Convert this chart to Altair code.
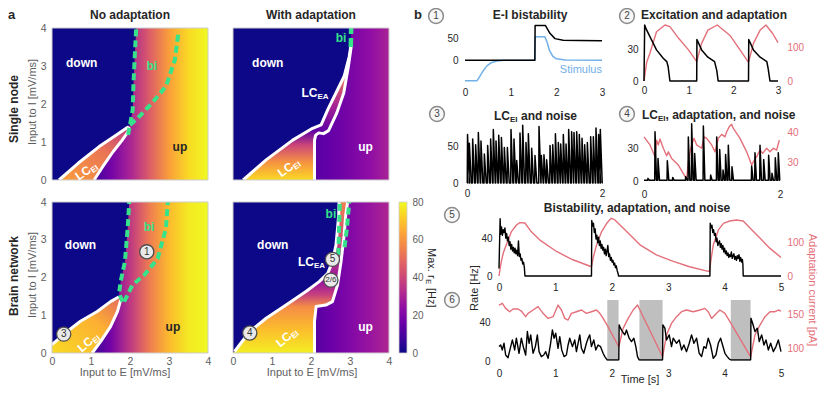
import altair as alt
import pandas as pd

FONT = "Liberation Sans"
W, H = 815, 378
RED = "#e3707a"
BLUE = "#72b0e8"
GREEN = "#36e28a"
DARK = "#262626"
GRAY = "#5e5e5e"
DOWN = "#0d0887"
PLASMA = ["#0d0887", "#41049d", "#6a00a8", "#8f0da4", "#b12a90", "#cc4778",
          "#e16462", "#f2844b", "#fca636", "#fcce25", "#f0f921"]

# ---------------- heatmap data (mV/ms coordinates, values in Hz) ----------------
TL_UP_X = [0.0, 1.0, 1.5, 2.0, 2.5, 3.0, 3.5, 4.0]
TL_UP_V = [0, 6, 18, 30, 46, 62, 74, 80]
TL_DOWN_Y = [0, 0.44, 0.88, 1.19, 1.38, 1.45, 1.85, 2.55, 3.43, 4.0]
TL_DOWN_X = [0.18, 0.67, 1.21, 1.66, 1.93, 2.0, 2.07, 2.09, 2.13, 2.16]
TL_LC_Y = [0, 0.35, 0.75, 1.05, 1.2, 1.33, 1.4]
TL_LC_XL = [0.18, 0.57, 1.05, 1.46, 1.67, 1.86, 1.97]
TL_LC_XR = [1.08, 1.3, 1.57, 1.8, 1.9, 1.94, 1.97]
TL_LC_O = [0, 0.6, 1]
TL_LC_V = [62, 52, 36]
TL_W1_X = [0.18, 0.67, 1.21, 1.66, 1.93, 1.97]
TL_W1_Y = [0, 0.44, 0.88, 1.19, 1.38, 1.4]
TL_W2_X = [1.08, 1.3, 1.57, 1.8, 1.95, 1.97]
TL_W2_Y = [0, 0.35, 0.75, 1.05, 1.27, 1.4]
TL_G1_X = [1.95, 2.0, 2.07, 2.09, 2.13, 2.16]
TL_G1_Y = [1.19, 1.45, 1.85, 2.55, 3.43, 4.0]
TL_G2_X = [2.0, 2.2, 2.56, 2.92, 3.15, 3.24]
TL_G2_Y = [1.45, 1.63, 2.02, 2.46, 3.16, 3.87]

TR_UP_X = [0.0, 2.0, 2.5, 3.0, 3.5, 4.0]
TR_UP_V = [10, 12, 15, 19, 24, 30]
TR_DOWN_Y = [0, 0.53, 1.05, 1.36, 1.45, 1.85, 2.29, 2.73, 3.25, 3.52, 4.0]
TR_DOWN_X = [0.26, 0.85, 1.53, 2.04, 2.26, 2.43, 2.64, 2.85, 2.98, 3.02, 3.03]
TR_EI_Y = [0, 0.53, 1.05, 1.2, 1.3]
TR_EI_XL = [0.26, 0.85, 1.53, 1.78, 1.94]
TR_EI_XR = [2.09, 2.09, 2.09, 2.14, 2.3]
TR_EI_O = [0, 0.35, 0.7, 1]
TR_EI_V = [74, 60, 40, 14]
TR_EA_Y = [1.3, 1.36, 1.45, 1.76, 1.85, 2.29, 2.73, 3.0, 3.25, 3.43, 3.52]
TR_EA_XL = [1.94, 2.04, 2.26, 2.39, 2.43, 2.64, 2.83, 2.91, 2.97, 3.0, 3.02]
TR_EA_XR = [2.45, 2.48, 2.52, 2.66, 2.7, 2.84, 2.92, 2.96, 3.0, 3.02, 3.03]
TR_EA_O = [0, 0.3, 0.6, 1]
TR_EA_V = [14, 30, 50, 58]
TR_W2_X = [2.09, 2.09, 2.12, 2.2, 2.32, 2.45, 2.66, 2.84, 2.96, 3.02, 3.03]
TR_W2_Y = [0, 1.05, 1.18, 1.24, 1.22, 1.3, 1.76, 2.29, 3.0, 3.43, 3.52]
TR_G_X = [3.02, 3.03]
TR_G_Y = [3.5, 4.0]

BL_UP_X = [0.0, 1.0, 1.5, 2.0, 2.5, 3.0, 3.5, 4.0]
BL_UP_V = [0, 5, 18, 36, 54, 68, 77, 80]
BL_DOWN_Y = [0.22, 0.57, 0.84, 1.1, 1.36, 1.49, 1.58, 1.89, 2.42, 3.3, 4.0]
BL_DOWN_X = [0.0, 0.39, 0.73, 1.16, 1.5, 1.72, 1.72, 1.76, 1.87, 1.94, 1.98]
BL_LC_Y = [0, 0.22, 0.31, 0.57, 0.7, 0.84, 1.1, 1.36, 1.45]
BL_LC_XL = [0, 0, 0.1, 0.39, 0.56, 0.73, 1.16, 1.5, 1.66]
BL_LC_XR = [1.03, 1.19, 1.25, 1.4, 1.5, 1.57, 1.68, 1.74, 1.76]
BL_LC_O = [0, 0.6, 1]
BL_LC_V = [74, 66, 50]
BL_W1_X = [0, 0.39, 0.73, 1.16, 1.5, 1.72]
BL_W1_Y = [0.22, 0.57, 0.84, 1.1, 1.36, 1.49]
BL_W2_X = [1.03, 1.25, 1.5, 1.68, 1.76]
BL_W2_Y = [0, 0.31, 0.7, 1.1, 1.4]
BL_G1_X = [1.81, 1.72, 1.76, 1.87, 1.94, 1.98]
BL_G1_Y = [1.36, 1.58, 1.89, 2.42, 3.3, 4.0]
BL_G2_X = [1.85, 1.94, 2.06, 2.37, 2.71, 2.92, 2.97]
BL_G2_Y = [1.36, 1.54, 1.8, 2.07, 2.5, 3.3, 4.0]

BR_UP_X = [0.0, 2.0, 2.5, 3.0, 3.5, 4.0]
BR_UP_V = [8, 11, 16, 21, 26, 31]
BR_DOWN_Y = [0, 0.04, 0.57, 0.92, 1.27, 1.63, 1.89, 2.11, 2.42, 2.86, 3.3, 3.65, 4.0]
BR_DOWN_X = [0, 0.04, 0.43, 0.85, 1.36, 1.87, 2.21, 2.43, 2.55, 2.64, 2.68, 2.71, 2.72]
BR_EI_Y = [0, 0.04, 0.57, 0.84, 0.92, 1.23, 1.27, 1.36, 1.63, 1.8, 1.89]
BR_EI_XL = [0, 0.04, 0.43, 0.76, 0.85, 1.31, 1.36, 1.48, 1.87, 2.08, 2.21]
BR_EI_XR = [2.09, 2.09, 2.09, 2.09, 2.1, 2.13, 2.38, 2.55, 2.62, 2.68, 2.7]
BR_EI_O = [0, 0.35, 0.65, 0.82, 1]
BR_EI_V = [78, 68, 58, 38, 26]
BR_EA_Y = [1.89, 2.11, 2.42, 2.86, 3.12, 3.3, 3.65, 4.0]
BR_EA_XL = [2.21, 2.43, 2.55, 2.64, 2.66, 2.68, 2.71, 2.72]
BR_EA_XR = [2.7, 2.73, 2.77, 2.83, 2.85, 2.86, 2.89, 2.94]
BR_EA_O = [0, 0.5, 1]
BR_EA_V = [26, 40, 55]
BR_W2_X = [2.09, 2.09, 2.13, 2.38, 2.55, 2.68, 2.77, 2.85, 2.89, 2.94]
BR_W2_Y = [0, 0.84, 1.23, 1.27, 1.36, 1.8, 2.42, 3.12, 3.65, 4.0]
BR_G1_X = [2.7, 2.72, 2.74]
BR_G1_Y = [2.6, 3.3, 4.0]
BR_G2_X = [2.86, 2.92, 2.98]
BR_G2_Y = [2.8, 3.3, 4.0]

CB_TICKS = [0, 20, 40, 60, 80]
HM_TICKS = [0, 1, 2, 3, 4]

# ---------------- time series data ----------------
P1K_T = [0, 1.53, 1.535, 1.76, 1.8, 1.86, 1.97, 2.15, 2.5, 3.0]
P1K_V = [0, 0, 79, 79, 72, 61, 49, 45.5, 44.5, 44]
P1S_T = [0, 0.26, 0.33, 0.4, 0.48, 0.57, 0.7, 0.85, 1.53, 1.535, 1.75, 1.8, 1.85, 1.92, 2.0, 2.2, 3.0]
P1S_V = [-47, -47, -36, -24, -13, -6, -2, 0, 0, 53, 53, 40, 22, 9, 3, 0.5, 0]

P2K_T = [0, 0.015, 0.05, 0.13, 0.28, 0.43, 0.51, 0.54, 0.58, 1.18, 1.185, 1.29, 1.43, 1.58, 1.63, 1.66,
         2.34, 2.345, 2.45, 2.6, 2.75, 2.78, 2.82, 3.0]
P2K_V = [0, 54, 50, 43, 30, 22, 18.7, 14, 0, 0, 40, 30, 23, 18.7, 10, 0, 0, 40, 30, 23, 18.7, 12, 0, 0]
P2R_T = [0, 0.06, 0.13, 0.28, 0.47, 0.58, 0.78, 1.0, 1.18, 1.29, 1.43, 1.64, 1.92, 2.1, 2.34, 2.45, 2.6,
         2.73, 2.88, 3.0]
P2R_V = [0, 55, 81, 145, 165, 160, 125, 91, 57, 111, 150, 165, 135, 101, 55, 111, 150, 165, 140, 113]

P3_T = [0.008, 0.035, 0.084, 0.128, 0.168, 0.207, 0.257, 0.306, 0.35, 0.39, 0.43, 0.47, 0.51, 0.553, 0.598,
        0.652, 0.696, 0.736, 0.785, 0.825, 0.874, 0.909, 0.958, 1.007, 1.067, 1.101, 1.14, 1.18, 1.23, 1.27,
        1.31, 1.353, 1.388, 1.427, 1.467, 1.506, 1.55, 1.585, 1.625, 1.664, 1.704, 1.743, 1.783, 1.832, 1.872,
        1.911, 1.95, 1.975]
P3_H = [67, 55, 61, 53, 70, 58, 40, 52, 61, 74, 58, 66, 63, 49, 49, 74, 61, 31, 69, 80, 56, 68, 48, 38, 78,
        38, 39, 32, 52, 53, 68, 56, 54, 67, 54, 74, 71, 70, 71, 67, 62, 53, 56, 64, 64, 76, 67, 74]

P4_T = [0.059, 0.162, 0.206, 0.343, 0.422, 0.613, 0.652, 0.701, 0.745, 0.873, 0.98, 1.069, 1.113, 1.162, 1.2,
        1.24, 1.294, 1.583, 1.632, 1.706, 1.76, 1.833, 1.882, 1.931, 1.975]
P4_H = [2.4, 45, 20.6, 18.5, 3.3, 4, 40.3, 52.4, 25.2, 50.3, 5.5, 40.3, 28.8, 10, 24.2, 32.7, 13, 13.6, 25.8,
        32.7, 19.7, 23.6, 7, 21.2, 25.8]
P4R_T = [0, 0.088, 0.162, 0.186, 0.211, 0.235, 0.284, 0.333, 0.358, 0.407, 0.505, 0.627, 0.652, 0.676, 0.701,
         0.735, 0.775, 0.848, 0.882, 0.922, 0.995, 1.044, 1.093, 1.142, 1.191, 1.216, 1.255, 1.289, 1.314,
         1.412, 1.51, 1.583, 1.608, 1.657, 1.706, 1.745, 1.804, 1.853, 1.902, 1.951, 1.99]
P4R_V = [38.4, 35.7, 31.8, 37.3, 35.7, 37.7, 34.6, 32.1, 33.4, 31.2, 29, 24.3, 30.1, 33.4, 35.7, 37.9, 35.7,
         34.6, 38.4, 37.9, 35.7, 33.4, 37.9, 39.2, 38.4, 40.1, 41.8, 42.6, 41.2, 37.9, 33.4, 29, 30.1, 31.8,
         34, 32.9, 34.6, 33.4, 34.6, 34, 37.3]

P5K1_T = [0, 0.02, 0.03, 0.045, 0.06, 0.075, 0.09, 0.105, 0.12, 0.135, 0.15, 0.165, 0.18, 0.195, 0.21, 0.225,
          0.24, 0.255, 0.27, 0.285, 0.3, 0.315, 0.33, 0.345, 0.36, 0.375, 0.39, 0.405, 0.42, 0.435, 0.45, 0.46]
P5K1_V = [8, 62, 45, 53, 44, 50, 47, 52, 41, 46, 38, 42, 33, 37, 29, 34, 27, 31, 25, 30, 24, 28, 22, 38, 21,
          24, 17, 19, 13, 15, 9, 0]
P5K2_T = [1.64, 1.645, 1.66, 1.675, 1.69, 1.705, 1.72, 1.735, 1.75, 1.765, 1.78, 1.795, 1.81, 1.825, 1.84,
          1.855, 1.87, 1.885, 1.9, 1.915, 1.93, 1.945, 1.96, 1.975, 1.99, 2.005, 2.02, 2.035, 2.05, 2.065, 2.08,
          2.095, 2.11, 2.12]
P5K2_V = [0, 60, 54, 57, 47, 51, 40, 44, 36, 42, 33, 38, 30, 34, 28, 31, 24, 29, 22, 27, 33, 21, 24, 17, 20,
          15, 17, 12, 14, 9, 11, 6, 3, 0]
P5K3_T = [3.74, 3.745, 3.76, 3.775, 3.79, 3.805, 3.82, 3.835, 3.85, 3.865, 3.88, 3.895, 3.91, 3.925, 3.94,
          3.955, 3.97, 3.985, 4.0, 4.015, 4.03, 4.045, 4.06, 4.075, 4.09, 4.105, 4.12, 4.135, 4.15, 4.165, 4.18,
          4.195, 4.21, 4.225, 4.24, 4.255, 4.27, 4.285, 4.3, 4.315, 4.325, 4.33, 5.0]
P5K3_V = [0, 57, 52, 55, 47, 50, 44, 46, 37, 41, 33, 36, 38, 31, 35, 29, 33, 26, 30, 24, 27, 22, 25, 20, 23,
          21, 26, 19, 22, 24, 18, 21, 17, 22, 19, 23, 16, 20, 15, 18, 12, 0, 0]
P5R_T = [0, 0.04, 0.08, 0.13, 0.22, 0.31, 0.37, 0.46, 0.57, 0.72, 1.02, 1.31, 1.64, 1.67, 1.73, 1.82, 1.91,
         1.99, 2.05, 2.2, 2.5, 2.79, 3.09, 3.38, 3.73, 3.76, 3.8, 3.89, 3.98, 4.09, 4.21, 4.33, 4.45, 4.63,
         4.8, 5.0]
P5R_V = [0, 43, 72, 94, 134, 154, 161, 160, 134, 109, 74, 49, 28, 55, 94, 134, 159, 174, 170, 145, 94, 64, 44,
         28, 13, 50, 94, 139, 159, 166, 169, 166, 145, 114, 84, 56]

P6K_T = [0, 0.03, 0.059, 0.089, 0.118, 0.16, 0.2, 0.237, 0.278, 0.308, 0.355, 0.396, 0.438, 0.473, 0.503,
         0.533, 0.562, 0.604, 0.645, 0.68, 0.71, 0.751, 0.793, 0.828, 0.87, 0.911, 0.947, 0.976, 1.006, 1.047,
         1.077, 1.112, 1.154, 1.195, 1.225, 1.254, 1.302, 1.343, 1.373, 1.402, 1.432, 1.462, 1.503, 1.55, 1.58,
         1.609, 1.639, 1.68, 1.716, 1.757, 1.799, 1.846, 1.876, 1.917, 2.124, 2.13, 2.154, 2.189, 2.231, 2.26,
         2.308, 2.349, 2.391, 2.426, 2.456, 2.485, 2.9, 2.905, 2.941, 2.97, 3.018, 3.059, 3.089, 3.148, 3.195,
         3.237, 3.278, 3.325, 3.373, 3.414, 3.456, 3.503, 3.55, 3.592, 3.633, 3.669, 3.71, 3.751, 3.799, 3.846,
         3.888, 3.929, 3.964, 4.006, 4.047, 4.083, 4.112, 4.462, 4.467, 4.497, 4.538, 4.58, 4.615, 4.657, 4.698,
         4.734, 4.775, 4.817, 4.864, 4.911, 4.953, 5.0]
P6K_V = [15.1, 16.8, 11.6, 18.6, 6.3, 3.5, 13.3, 22.1, 11.6, 23.9, 8.1, 23.9, 13.3, 6.3, 30.9, 18.6, 27.4, 8.1,
         15.1, 27.4, 9.8, 4.6, 6.3, 9.8, 2.8, 16.8, 32.6, 23.9, 29.1, 13.3, 25.6, 11.6, 4.6, 6.3, 16.8, 23.9,
         15.1, 22.1, 9.8, 18.6, 27.4, 13.3, 8.1, 18.6, 23.9, 27.4, 15.1, 22.1, 11.6, 16.8, 15.1, 8.1, 4.6, 1.2,
         1.2, 37.9, 34.4, 30.9, 27.4, 32.6, 23.9, 20.4, 23.9, 15.1, 4.6, 1.2, 1.2, 37.9, 34.4, 22.1, 27.4, 15.1,
         23.9, 18.6, 22.1, 11.6, 16.8, 9.8, 18.6, 27.4, 18.6, 23.9, 8.1, 4.6, 15.1, 13.3, 23.9, 16.8, 2.8, 6.3,
         18.6, 23.9, 16.8, 8.1, 4.6, 2.1, 1.2, 1.2, 44.9, 39.6, 30.9, 34.4, 20.4, 27.4, 16.8, 22.1, 11.6, 18.6,
         9.8, 15.1, 22.1, 9.8]
P6R_T = [0, 0.059, 0.118, 0.189, 0.249, 0.337, 0.396, 0.473, 0.515, 0.604, 0.692, 0.781, 0.87, 0.959, 1.047,
         1.107, 1.166, 1.225, 1.284, 1.373, 1.462, 1.55, 1.639, 1.728, 1.787, 1.846, 1.917, 2.124, 2.201, 2.29,
         2.379, 2.456, 2.9, 2.97, 3.059, 3.148, 3.237, 3.325, 3.444, 3.562, 3.651, 3.71, 3.769, 3.828, 3.917,
         4.006, 4.095, 4.462, 4.538, 4.627, 4.716, 4.805, 4.893, 4.953, 5.0]
P6R_V = [163.2, 165.7, 158.3, 153.4, 157.4, 157.4, 154.4, 146.1, 151, 155.9, 160.8, 151, 143.6, 146.1, 163.2,
         155.9, 143.6, 141.2, 151, 153.4, 155.9, 151, 153.4, 155.9, 151, 143.6, 133.8, 101.9, 128.9, 143.6,
         155.9, 163.2, 87.2, 119.1, 136.3, 146.1, 153.4, 155.9, 153.4, 155.9, 158.3, 153.4, 143.6, 148.5, 155.9,
         151, 138.7, 87.2, 119.1, 133.8, 146.1, 153.4, 153.4, 155.9, 154.4]
P6_GREY_T0 = [1.92, 2.49, 4.11]
P6_GREY_T1 = [2.12, 2.90, 4.46]


# ---------------- helpers ----------------
def hex2rgb(h):
    return tuple(int(h[i:i + 2], 16) for i in (1, 3, 5))


def plasma(v, vmax=80.0):
    f = min(max(v / vmax, 0.0), 1.0) * 10
    i = min(int(f), 9)
    t = f - i
    a, b = hex2rgb(PLASMA[i]), hex2rgb(PLASMA[i + 1])
    return "#%02x%02x%02x" % tuple(int(round(p + (q - p) * t)) for p, q in zip(a, b))


def grad(offsets, values, x1=0, y1=0, x2=1, y2=0):
    return alt.LinearGradient(
        gradient="linear",
        stops=[alt.GradientStop(offset=o, color=plasma(v)) for o, v in zip(offsets, values)],
        x1=x1, y1=y1, x2=x2, y2=y2)


def sc(dom, rng):
    return alt.Scale(domain=dom, range=rng, nice=False, zero=False)


def ax_bottom(vals, ypix, pad, color=DARK, size=10):
    return alt.Axis(orient="bottom", offset=ypix - H, values=vals, labelPadding=pad, labelColor=color,
                    labelFontSize=size, labelFont=FONT, format="d", labelFlush=False, grid=False,
                    domain=False, ticks=False, title=None)


def ax_left(vals, xpix, pad, color=DARK, size=10):
    return alt.Axis(orient="left", offset=-xpix, values=vals, labelPadding=pad, labelColor=color,
                    labelFontSize=size, labelFont=FONT, format="d", labelFlush=False, grid=False,
                    domain=False, ticks=False, title=None)


def ax_right(vals, xpix, pad, color=DARK, size=10):
    return alt.Axis(orient="right", offset=xpix - W, values=vals, labelPadding=pad, labelColor=color,
                    labelFontSize=size, labelFont=FONT, format="d", labelFlush=False, grid=False,
                    domain=False, ticks=False, title=None)


ONE = pd.DataFrame({"k": [0]})


def note(txt, x, y, size=11, weight="normal", color=DARK, align="center", angle=0, dx=0, dy=0):
    return alt.Chart(ONE).mark_text(text=txt, font=FONT, fontSize=size, fontWeight=weight, color=color,
                                    align=align, baseline="middle", angle=angle, dx=dx, dy=dy).encode(
        x=alt.value(x), y=alt.value(y))


def badge(txt, x, y, fs=10):
    c = alt.Chart(ONE).mark_point(shape="circle", filled=True, fill="#f7f7f7", stroke="#8a8a8a",
                                  strokeWidth=1.5, size=220, opacity=1).encode(x=alt.value(x), y=alt.value(y))
    return [c, note(txt, x, y, size=fs, color="#444444")]


HD = [0, 4]


def hm_bg(XR, YR, up_x, up_v, show_x, show_y):
    g = grad([x / 4.0 for x in up_x], up_v)
    df = pd.DataFrame({"x": [0], "x2": [4], "y": [0], "y2": [4]})
    xa = ax_bottom(HM_TICKS, YR[0], 3, GRAY, 10.5) if show_x else None
    ya = ax_left(HM_TICKS, XR[0], 6, GRAY, 10.5) if show_y else None
    return alt.Chart(df).mark_rect(color=g, opacity=1).encode(
        x=alt.X("x:Q", scale=sc(HD, XR), axis=xa), x2="x2:Q",
        y=alt.Y("y:Q", scale=sc(HD, YR), axis=ya), y2="y2:Q")


def hm_border(XR, YR):
    df = pd.DataFrame({"x": [0], "x2": [4], "y": [0], "y2": [4]})
    return alt.Chart(df).mark_rect(fillOpacity=0, stroke="#cdcdcd", strokeWidth=1).encode(
        x=alt.X("x:Q", scale=sc(HD, XR), axis=None), x2="x2:Q",
        y=alt.Y("y:Q", scale=sc(HD, YR), axis=None), y2="y2:Q")


def hm_area(XR, YR, ys, xl, xr, fill):
    df = pd.DataFrame({"y": ys, "xl": xl, "xr": xr})
    return alt.Chart(df).mark_area(orient="horizontal", color=fill, opacity=1, interpolate="linear").encode(
        y=alt.Y("y:Q", scale=sc(HD, YR), axis=None),
        x=alt.X("xl:Q", scale=sc(HD, XR), axis=None), x2="xr:Q")


def hm_line(XR, YR, xs, ys, color, width, dash=None):
    df = pd.DataFrame({"x": xs, "y": ys, "i": list(range(len(xs)))})
    kw = dict(color=color, strokeWidth=width, strokeCap="butt", strokeJoin="round")
    if dash:
        kw["strokeDash"] = dash
    return alt.Chart(df).mark_line(**kw).encode(
        x=alt.X("x:Q", scale=sc(HD, XR), axis=None),
        y=alt.Y("y:Q", scale=sc(HD, YR), axis=None), order="i:Q")


def hm_text(XR, YR, x, y, txt, color, size=12, weight="bold", angle=0, align="center", dx=0, dy=0):
    df = pd.DataFrame({"x": [x], "y": [y]})
    return alt.Chart(df).mark_text(text=txt, font=FONT, fontSize=size, fontWeight=weight, color=color,
                                   align=align, baseline="middle", angle=angle, dx=dx, dy=dy).encode(
        x=alt.X("x:Q", scale=sc(HD, XR), axis=None),
        y=alt.Y("y:Q", scale=sc(HD, YR), axis=None))


def hm_lc(XR, YR, x, y, sub, color="white", angle=0):
    return [hm_text(XR, YR, x, y, "LC", color, 12, "bold", angle, "right", 3, 0),
            hm_text(XR, YR, x, y, sub, color, 8, "bold", angle, "left", 3, 4)]


def hm_badge(XR, YR, x, y, txt, fs=10):
    df = pd.DataFrame({"x": [x], "y": [y]})
    enc = dict(x=alt.X("x:Q", scale=sc(HD, XR), axis=None), y=alt.Y("y:Q", scale=sc(HD, YR), axis=None))
    c = alt.Chart(df).mark_point(shape="circle", filled=True, fill="#e9e9e9", stroke="#4d4d4d",
                                 strokeWidth=1.3, size=200, opacity=1).encode(**enc)
    t = alt.Chart(df).mark_text(text=txt, font=FONT, fontSize=fs, color="#333333", baseline="middle").encode(**enc)
    return [c, t]


def series(t, v, XD, XR, YD, YR, color, width, xaxis=None, yaxis=None):
    df = pd.DataFrame({"t": t, "v": v, "i": list(range(len(t)))})
    return alt.Chart(df).mark_line(color=color, strokeWidth=width, strokeJoin="round").encode(
        x=alt.X("t:Q", scale=sc(XD, XR), axis=xaxis),
        y=alt.Y("v:Q", scale=sc(YD, YR), axis=yaxis), order="i:Q")


def spikes(ts, hs, base, rise, fall, tmax):
    t, v = [0.0], [base]
    for a, h in zip(ts, hs):
        t += [max(a - rise, 0.0), a, a + fall]
        v += [base, h, base]
    t.append(tmax)
    v.append(base)
    return t, v


layers = []

# ---------------- panel a ----------------
TLX, TLY = [44, 200], [172, 20]
TRX, TRY = [225, 381], [172, 20]
BLX, BLY = [44, 200], [345, 194]
BRX, BRY = [225, 381], [345, 194]
WL = 3.0


def zeros(n):
    return [0] * n


# top-left
layers += [hm_bg(TLX, TLY, TL_UP_X, TL_UP_V, False, True),
           hm_area(TLX, TLY, TL_DOWN_Y, zeros(len(TL_DOWN_Y)), TL_DOWN_X, DOWN),
           hm_area(TLX, TLY, TL_LC_Y, TL_LC_XL, TL_LC_XR, grad(TL_LC_O, TL_LC_V, 0, 1, 1, 0)),
           hm_line(TLX, TLY, TL_W1_X, TL_W1_Y, "white", WL),
           hm_line(TLX, TLY, TL_W2_X, TL_W2_Y, "white", WL),
           hm_line(TLX, TLY, TL_G1_X, TL_G1_Y, GREEN, 4, [7, 4]),
           hm_line(TLX, TLY, TL_G2_X, TL_G2_Y, GREEN, 4, [7, 4]),
           hm_border(TLX, TLY),
           hm_text(TLX, TLY, 0.76, 3.09, "down", "white"),
           hm_text(TLX, TLY, 2.56, 3.0, "bi", GREEN),
           hm_text(TLX, TLY, 3.28, 0.88, "up", DARK)]
layers += hm_lc(TLX, TLY, 0.9, 0.26, "EI", angle=325)

# top-right
layers += [hm_bg(TRX, TRY, TR_UP_X, TR_UP_V, False, False),
           hm_area(TRX, TRY, TR_DOWN_Y, zeros(len(TR_DOWN_Y)), TR_DOWN_X, DOWN),
           hm_area(TRX, TRY, TR_EI_Y, TR_EI_XL, TR_EI_XR, grad(TR_EI_O, TR_EI_V, 0, 1, 0, 0)),
           hm_area(TRX, TRY, TR_EA_Y, TR_EA_XL, TR_EA_XR, grad(TR_EA_O, TR_EA_V, 0, 1, 0, 0)),
           hm_line(TRX, TRY, TR_DOWN_X[:-1], TR_DOWN_Y[:-1], "white", WL),
           hm_line(TRX, TRY, TR_W2_X, TR_W2_Y, "white", WL),
           hm_line(TRX, TRY, TR_G_X, TR_G_Y, GREEN, 4.5, [9, 4]),
           hm_border(TRX, TRY),
           hm_text(TRX, TRY, 0.89, 3.09, "down", "white"),
           hm_text(TRX, TRY, 2.77, 3.74, "bi", GREEN),
           hm_text(TRX, TRY, 3.4, 0.88, "up", "white")]
layers += hm_lc(TRX, TRY, 2.09, 2.29, "EA")
layers += hm_lc(TRX, TRY, 1.45, 0.35, "EI", angle=325)

# bottom-left
layers += [hm_bg(BLX, BLY, BL_UP_X, BL_UP_V, True, True),
           hm_area(BLX, BLY, BL_LC_Y, BL_LC_XL, BL_LC_XR, grad(BL_LC_O, BL_LC_V, 0, 1, 1, 0)),
           hm_area(BLX, BLY, BL_DOWN_Y, zeros(len(BL_DOWN_Y)), BL_DOWN_X, DOWN),
           hm_line(BLX, BLY, BL_W1_X, BL_W1_Y, "white", WL),
           hm_line(BLX, BLY, BL_W2_X, BL_W2_Y, "white", WL),
           hm_line(BLX, BLY, BL_G1_X, BL_G1_Y, GREEN, 4, [7, 4]),
           hm_line(BLX, BLY, BL_G2_X, BL_G2_Y, GREEN, 4, [7, 4]),
           hm_border(BLX, BLY),
           hm_text(BLX, BLY, 0.73, 2.87, "down", "white"),
           hm_text(BLX, BLY, 2.49, 3.34, "bi", GREEN),
           hm_text(BLX, BLY, 3.1, 0.7, "up", DARK)]
layers += hm_lc(BLX, BLY, 0.95, 0.31, "EI", angle=320)
layers += hm_badge(BLX, BLY, 2.43, 2.68, "1")
layers += hm_badge(BLX, BLY, 0.3, 0.5, "3")

# bottom-right
layers += [hm_bg(BRX, BRY, BR_UP_X, BR_UP_V, True, False),
           hm_area(BRX, BRY, BR_DOWN_Y, zeros(len(BR_DOWN_Y)), BR_DOWN_X, DOWN),
           hm_area(BRX, BRY, BR_EI_Y, BR_EI_XL, BR_EI_XR, grad(BR_EI_O, BR_EI_V, 0, 1, 0, 0)),
           hm_area(BRX, BRY, BR_EA_Y, BR_EA_XL, BR_EA_XR, grad(BR_EA_O, BR_EA_V, 0, 1, 0, 0)),
           hm_line(BRX, BRY, BR_DOWN_X[1:], BR_DOWN_Y[1:], "white", WL),
           hm_line(BRX, BRY, BR_W2_X, BR_W2_Y, "white", WL),
           hm_line(BRX, BRY, BR_G1_X, BR_G1_Y, GREEN, 4, [7, 4]),
           hm_line(BRX, BRY, BR_G2_X, BR_G2_Y, GREEN, 4, [7, 4]),
           hm_border(BRX, BRY),
           hm_text(BRX, BRY, 1.02, 2.87, "down", "white"),
           hm_text(BRX, BRY, 2.51, 3.69, "bi", GREEN),
           hm_text(BRX, BRY, 3.4, 0.7, "up", "white")]
layers += hm_lc(BRX, BRY, 2.0, 2.42, "EA")
layers += hm_lc(BRX, BRY, 1.4, 0.44, "EI", angle=320)
layers += hm_badge(BRX, BRY, 2.55, 2.48, "5")
layers += hm_badge(BRX, BRY, 2.51, 1.93, "2/6", fs=8)
layers += hm_badge(BRX, BRY, 0.43, 0.53, "4")

# colour bar
cb_df = pd.DataFrame({"x": [0], "x2": [1], "y": [0], "y2": [80]})
cb_grad = alt.LinearGradient(gradient="linear",
                             stops=[alt.GradientStop(offset=i / 10.0, color=c) for i, c in enumerate(PLASMA)],
                             x1=0, y1=1, x2=0, y2=0)
layers.append(alt.Chart(cb_df).mark_rect(color=cb_grad, stroke="#cdcdcd", strokeWidth=0.8).encode(
    x=alt.X("x:Q", scale=sc([0, 1], [391, 399]), axis=None), x2="x2:Q",
    y=alt.Y("y:Q", scale=sc([0, 80], [345, 194]), axis=ax_right(CB_TICKS, 399, 5, GRAY, 10)), y2="y2:Q"))
layers += [note("Max. r", 423, 240, 11, color=DARK, align="left", angle=90),
           note("E", 423, 240, 8, color=DARK, align="left", angle=90, dx=31, dy=3),
           note("[Hz]", 423, 240, 11, color=DARK, align="left", angle=90, dx=40)]

# panel a annotations
layers += [note("a", 0, 7, 13, "bold", align="left"),
           note("No adaptation", 122, 7, 12, "bold"),
           note("With adaptation", 303, 7, 12, "bold"),
           note("Single node", 6, 101, 12, "bold", angle=270),
           note("Brain network", 6, 268, 12, "bold", angle=270),
           note("Input to I [mV/ms]", 24.5, 94, 11, color=GRAY, angle=270),
           note("Input to I [mV/ms]", 24.5, 267, 11, color=GRAY, angle=270),
           note("Input to E [mV/ms]", 117, 365, 11, color=GRAY),
           note("Input to E [mV/ms]", 304, 365, 11, color=GRAY)]

# ---------------- panel b ----------------
# 1: E-I bistability
P1X, P1Y, P1D = [457, 594], [75, 17], [-52, 80]
layers += [series(P1S_T, P1S_V, [0, 3], P1X, P1D, P1Y, BLUE, 1.5),
           series(P1K_T, P1K_V, [0, 3], P1X, P1D, P1Y, "black", 1.5,
                  ax_bottom([0, 1, 2, 3], 75, 4), ax_left([0, 50], 457, 7)),
           note("Stimulus", 594, 62, 11, color=BLUE, align="right"),
           note("E-I bistability", 522, 7, 12, "bold")]

# 2: excitation and adaptation
P2X, P2Y = [636, 770], [73, 17]
layers += [series(P2R_T, P2R_V, [0, 3], P2X, [0, 165], P2Y, RED, 1.4, None, ax_right([0, 100], 770, 9, RED)),
           series(P2K_T, P2K_V, [0, 3], P2X, [0, 54], P2Y, "black", 1.5,
                  ax_bottom([0, 1, 2, 3], 73, 4), ax_left([0, 30], 636, 6)),
           note("Excitation and adaptation", 706, 7, 12, "bold")]

# 3: LC_EI and noise
P3X, P3Y = [459, 594], [175, 115]
s3t, s3v = spikes(P3_T, P3_H, 0.0, 0.004, 0.028, 2.0)
layers += [series(s3t, s3v, [0, 2], P3X, [0, 83], P3Y, "black", 1.5,
                  ax_bottom([0, 1, 2], 175, 5), ax_left([0, 50], 459, 9)),
           note("LC", 486, 108, 12, "bold", align="left"),
           note("EI", 502, 112, 8, "bold", align="left"),
           note("and noise", 513, 108, 12, "bold", align="left")]

# 4: LC_EI, adaptation and noise
P4X, P4Y = [636, 772], [173, 115]
s4t, s4v = spikes(P4_T, P4_H, 0.6, 0.004, 0.022, 2.0)
layers += [series(P4R_T, P4R_V, [0, 2], P4X, [23.7, 43], P4Y, RED, 1.4, None, ax_right([30, 40], 772, 7, RED)),
           series(s4t, s4v, [0, 2], P4X, [0, 53], P4Y, "black", 1.5,
                  ax_bottom([0, 1, 2], 173, 8), ax_left([0, 30], 636, 6)),
           note("LC", 634, 107, 12, "bold", align="left"),
           note("EI", 650, 111, 8, "bold", align="left"),
           note(", adaptation, and noise", 657.5, 107, 12, "bold", align="left")]

# 5: bistability, adaptation and noise
P5X, P5Y = [491, 773], [268, 210]
layers += [series(P5R_T, P5R_V, [0, 5], P5X, [0, 175], P5Y, RED, 1.4, None, ax_right([0, 100], 773, 6, RED)),
           series(P5K1_T + P5K2_T + P5K3_T, P5K1_V + P5K2_V + P5K3_V, [0, 5], P5X, [0, 62.7], P5Y, "black", 1.4,
                  ax_bottom([0, 1, 2, 3, 4, 5], 268, 6), ax_left([0, 40], 491, 7)),
           note("Bistability, adaptation, and noise", 629, 200, 12, "bold")]

# 6: noise-driven switching
P6X, P6Y = [491, 773], [353, 292]
grey_df = pd.DataFrame({"t0": P6_GREY_T0, "t1": P6_GREY_T1, "y0": [0] * 3, "y1": [64] * 3})
layers += [alt.Chart(grey_df).mark_rect(color="#bfbfbf", opacity=1).encode(
               x=alt.X("t0:Q", scale=sc([0, 5], P6X), axis=None), x2="t1:Q",
               y=alt.Y("y0:Q", scale=sc([0, 64], P6Y), axis=None), y2="y1:Q"),
           series(P6R_T, P6R_V, [0, 5], P6X, [81, 170.6], P6Y, RED, 1.4, None, ax_right([100, 150], 773, 6, RED)),
           series(P6K_T, P6K_V, [0, 5], P6X, [0, 64], P6Y, "black", 1.4,
                  ax_bottom([0, 1, 2, 3, 4, 5], 353, 7), ax_left([0, 40], 491, 9)),
           note("Time [s]", 632, 372, 11),
           note("Rate [Hz]", 467, 280, 11, angle=270),
           note("Adaptation current [pA]", 804, 282, 11, color=RED, angle=90)]

# panel b labels and badges
layers.append(note("b", 410, 7, 13, "bold"))
layers += badge("1", 428, 8)
layers += badge("2", 619, 8)
layers += badge("3", 429, 106)
layers += badge("4", 619, 106)
layers += badge("5", 444, 207)
layers += badge("6", 444, 292)

chart = alt.layer(*layers).resolve_scale(x="independent", y="independent").properties(
    width=W, height=H, padding=0, autosize=alt.AutoSizeParams(type="none")
).configure_view(strokeWidth=0).configure_axis(grid=False, domain=False, ticks=False, labelFont=FONT)

chart.save("out.html", embed_options={"renderer": "svg", "actions": False})
